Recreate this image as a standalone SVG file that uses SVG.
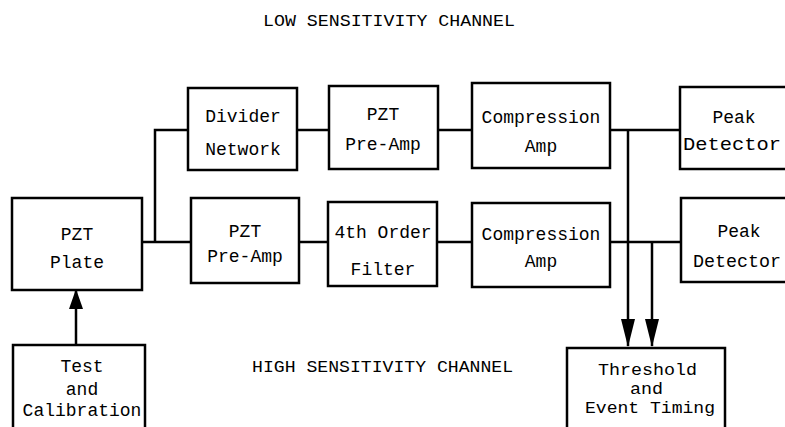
<svg xmlns="http://www.w3.org/2000/svg" width="785" height="427" viewBox="0 0 785 427">
  <style>
    .box { fill: #fff; stroke: #000; stroke-width: 2.5; }
    .wire { fill: none; stroke: #000; stroke-width: 2.5; }
    .lbl { font-family: "Liberation Mono", "DejaVu Sans Mono", monospace; font-size: 18px; fill: #000; text-anchor: middle; }
    .tight { font-size: 16px; }
    .title { font-family: "Liberation Mono", "DejaVu Sans Mono", monospace; font-size: 16px; fill: #000; }
  </style>
  <defs>
    <marker id="head" markerUnits="userSpaceOnUse" markerWidth="28" markerHeight="16" viewBox="0 0 28 16" refX="27" refY="8" orient="auto">
      <polygon points="0,1 28,8 0,15" fill="#000" />
    </marker>
    <marker id="headSmall" markerUnits="userSpaceOnUse" markerWidth="20" markerHeight="16" viewBox="0 0 20 16" refX="19" refY="8" orient="auto">
      <polygon points="0,1 20,8 0,15" fill="#000" />
    </marker>
  </defs>

  <rect width="785" height="427" fill="#fff" />

  <!-- channel titles -->
  <text class="title" x="263" y="26" textLength="252" lengthAdjust="spacingAndGlyphs">LOW SENSITIVITY CHANNEL</text>
  <text class="title" x="252" y="372" textLength="261" lengthAdjust="spacingAndGlyphs">HIGH SENSITIVITY CHANNEL</text>

  <!-- connectors -->
  <g id="connectors">
    <polyline class="wire" points="142,242 191,242" />
    <polyline class="wire" points="188,130 155,130 155,242" />
    <line class="wire" x1="297" y1="130" x2="329" y2="130" />
    <line class="wire" x1="438" y1="130" x2="472" y2="130" />
    <line class="wire" x1="610" y1="130" x2="680" y2="130" />
    <line class="wire" x1="299" y1="242" x2="328" y2="242" />
    <line class="wire" x1="437" y1="242" x2="472" y2="242" />
    <line class="wire" x1="610" y1="242" x2="681" y2="242" />
    <line class="wire" x1="628" y1="130" x2="628" y2="346" marker-end="url(#head)" />
    <line class="wire" x1="652" y1="242" x2="652" y2="346" marker-end="url(#head)" />
    <line class="wire" x1="76" y1="345" x2="76" y2="290" marker-end="url(#headSmall)" />
  </g>

  <g id="pzt-plate">
    <rect class="box" x="12" y="198" width="130" height="92" />
    <text class="lbl" x="77" y="240">PZT</text>
    <text class="lbl" x="77" y="268">Plate</text>
  </g>

  <g id="test-calibration">
    <rect class="box" x="13" y="345" width="132" height="90" />
    <text class="lbl" x="82" y="372">Test</text>
    <text class="lbl" x="82" y="395">and</text>
    <text class="lbl" x="82" y="416">Calibration</text>
  </g>

  <g id="divider-network">
    <rect class="box" x="188" y="88" width="109" height="82" />
    <text class="lbl" x="243" y="122">Divider</text>
    <text class="lbl" x="243" y="155">Network</text>
  </g>

  <g id="preamp-low">
    <rect class="box" x="329" y="86" width="109" height="83" />
    <text class="lbl" x="383" y="120">PZT</text>
    <text class="lbl" x="383" y="150">Pre-Amp</text>
  </g>

  <g id="compression-low">
    <rect class="box" x="472" y="83" width="138" height="85" />
    <text class="lbl" x="541" y="123">Compression</text>
    <text class="lbl" x="541" y="152">Amp</text>
  </g>

  <g id="peak-low">
    <rect class="box" x="680" y="87" width="115" height="82" />
    <text class="lbl" x="734" y="123">Peak</text>
    <text class="lbl" x="683" y="150" textLength="98" lengthAdjust="spacingAndGlyphs" style="text-anchor:start">Detector</text>
  </g>

  <g id="preamp-high">
    <rect class="box" x="191" y="198" width="108" height="85" />
    <text class="lbl" x="245" y="237">PZT</text>
    <text class="lbl" x="245" y="262">Pre-Amp</text>
  </g>

  <g id="filter">
    <rect class="box" x="328" y="202" width="109" height="84" />
    <text class="lbl" x="383" y="238">4th Order</text>
    <text class="lbl" x="383" y="275">Filter</text>
  </g>

  <g id="compression-high">
    <rect class="box" x="472" y="203" width="138" height="84" />
    <text class="lbl" x="541" y="240">Compression</text>
    <text class="lbl" x="541" y="267">Amp</text>
  </g>

  <g id="peak-high">
    <rect class="box" x="681" y="198" width="115" height="84" />
    <text class="lbl" x="739" y="237">Peak</text>
    <text class="lbl" x="693" y="267" textLength="88" lengthAdjust="spacingAndGlyphs" style="text-anchor:start">Detector</text>
  </g>

  <g id="threshold-timing">
    <rect class="box" x="567" y="348" width="158" height="90" />
    <text class="lbl tight" x="598" y="375" textLength="99" lengthAdjust="spacingAndGlyphs" style="text-anchor:start">Threshold</text>
    <text class="lbl tight" x="630" y="394" textLength="33" lengthAdjust="spacingAndGlyphs" style="text-anchor:start">and</text>
    <text class="lbl tight" x="585" y="413" textLength="130" lengthAdjust="spacingAndGlyphs" style="text-anchor:start">Event Timing</text>
  </g>
</svg>
